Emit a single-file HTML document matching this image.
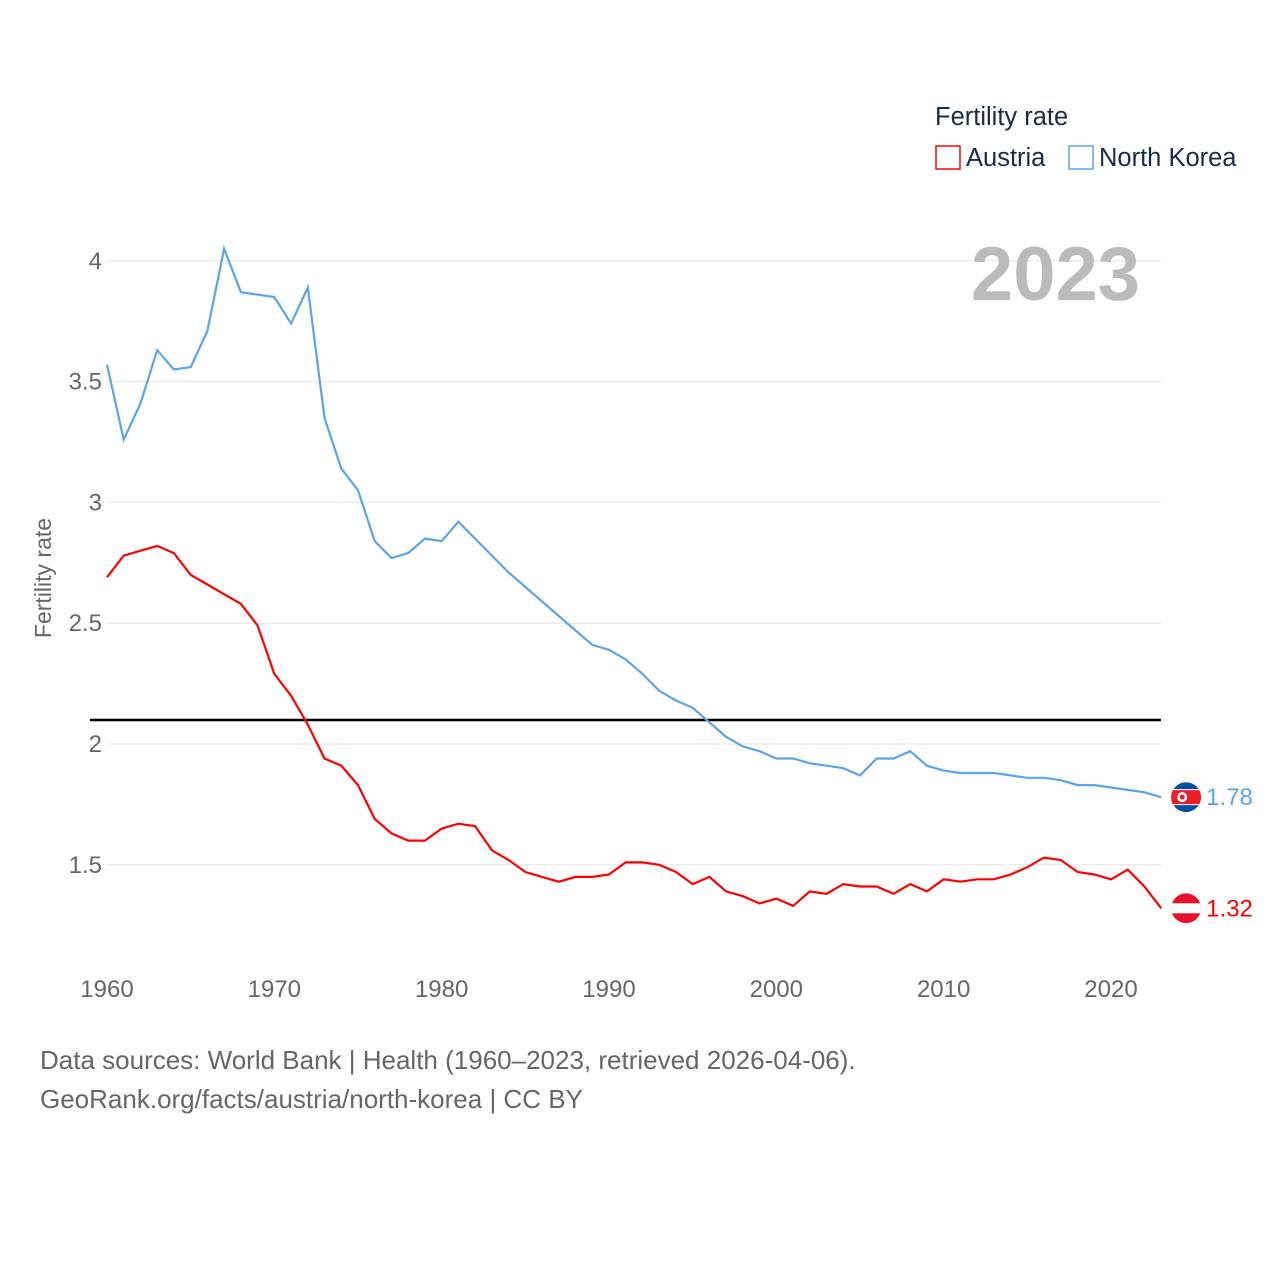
<!DOCTYPE html>
<html><head><meta charset="utf-8"><style>
body{margin:0;background:#fff;font-family:"Liberation Sans",sans-serif}
svg text{font-family:"Liberation Sans",sans-serif}
</style></head><body>
<svg id="chart" width="1280" height="1280" xmlns="http://www.w3.org/2000/svg">
<defs>
<clipPath id="c-nk"><circle cx="1186" cy="797.2" r="15"/></clipPath>
<clipPath id="c-at"><circle cx="1186" cy="908.3" r="15"/></clipPath>
</defs>
<g id="grid"></g>
<g id="yticks"></g>
<g id="xticks"></g>
<text transform="translate(51,578) rotate(-90)" text-anchor="middle" font-size="23" fill="#666">Fertility rate</text>
<text x="1140" y="300" text-anchor="end" font-size="76" font-weight="bold" fill="#bbb">2023</text>
<line x1="90" x2="1161" y1="720" y2="720" stroke="#000" stroke-width="2.5"/>
<g id="series"></g>
<g>
<text x="935" y="125" font-size="25.5" fill="#1a2b4a">Fertility rate</text>
<rect x="936" y="146" width="24" height="23" fill="none" stroke="#f00" stroke-width="1.5"/>
<text x="966" y="166" font-size="25.5" fill="#1a2b4a">Austria</text>
<rect x="1069" y="146" width="24" height="23" fill="none" stroke="#5ba4e8" stroke-width="1.5"/>
<text x="1099" y="166" font-size="25.5" fill="#1a2b4a">North Korea</text>
</g>
<text x="40" y="1069" font-size="26" fill="#666">Data sources: World Bank | Health (1960–2023, retrieved 2026-04-06).</text>
<text x="40" y="1108" font-size="26" fill="#666">GeoRank.org/facts/austria/north-korea | CC BY</text>
</svg>
<script>
const years=[];for(let y=1960;y<=2023;y++)years.push(y);
const northKorea=[3.57,3.26,3.41,3.63,3.55,3.56,3.71,4.05,3.87,3.86,3.85,3.74,3.89,3.35,3.14,3.05,2.84,2.77,2.79,2.85,2.84,2.92,2.85,2.78,2.71,2.65,2.59,2.53,2.47,2.41,2.39,2.35,2.29,2.22,2.18,2.15,2.09,2.03,1.99,1.97,1.94,1.94,1.92,1.91,1.90,1.87,1.94,1.94,1.97,1.91,1.89,1.88,1.88,1.88,1.87,1.86,1.86,1.85,1.83,1.83,1.82,1.81,1.80,1.78];
const austria=[2.69,2.78,2.80,2.82,2.79,2.70,2.66,2.62,2.58,2.49,2.29,2.20,2.08,1.94,1.91,1.83,1.69,1.63,1.60,1.60,1.65,1.67,1.66,1.56,1.52,1.47,1.45,1.43,1.45,1.45,1.46,1.51,1.51,1.50,1.47,1.42,1.45,1.39,1.37,1.34,1.36,1.33,1.39,1.38,1.42,1.41,1.41,1.38,1.42,1.39,1.44,1.43,1.44,1.44,1.46,1.49,1.53,1.52,1.47,1.46,1.44,1.48,1.41,1.32];
const yTicks=[1.5,2,2.5,3,3.5,4];
const xTicks=[1960,1970,1980,1990,2000,2010,2020];
const xs=y=>107+(y-1960)*16.733;
const ys=v=>744-(v-2)*241.6;
const NS="http://www.w3.org/2000/svg";
function mk(t,a,p){const e=document.createElementNS(NS,t);for(const k in a)e.setAttribute(k,a[k]);p.appendChild(e);return e;}
const grid=document.getElementById('grid'),yt=document.getElementById('yticks'),xt=document.getElementById('xticks'),ser=document.getElementById('series');
yTicks.forEach(v=>{
const l=mk('line',{x1:107,x2:1161,y1:ys(v),y2:ys(v),stroke:'#e6e6e6','stroke-width':1},grid);


const t=mk('text',{x:102,y:ys(v)+8,'text-anchor':'end','font-size':24,fill:'#666'},yt);t.textContent=String(v);


});
xTicks.forEach(v=>{
const t=mk('text',{x:xs(v),y:997,'text-anchor':'middle','font-size':24,fill:'#666'},xt);t.textContent=String(v);


});
function line(vals,color,name,flag){
const d=vals.map((v,i)=>(i?'L':'M')+xs(years[i]).toFixed(1)+','+ys(v).toFixed(1)).join('');
const p=mk('path',{d:d,fill:'none',stroke:color,'stroke-width':2.2},ser);


const last=vals[vals.length-1],lx=xs(years[years.length-1]),ly=ys(last);
const cx=lx+25;
const g=mk('g',{'clip-path':'url(#c-'+flag+')'},ser);


if(flag==='at'){
mk('circle',{cx:cx,cy:ly,r:15,fill:'#e8112d'},g);
mk('rect',{x:cx-15,y:ly-5,width:30,height:10,fill:'#fff'},g);
}else{
mk('circle',{cx:cx,cy:ly,r:15,fill:'#024fa2'},g);
mk('rect',{x:cx-15,y:ly-8,width:30,height:16,fill:'#fff'},g);
mk('rect',{x:cx-15,y:ly-7,width:30,height:14,fill:'#ed1c27'},g);
mk('circle',{cx:cx-4,cy:ly,r:5,fill:'#fff'},g);
mk('circle',{cx:cx-4,cy:ly,r:2.5,fill:'#ed1c27'},g);
}
const t=mk('text',{x:lx+45,y:ly+8,'font-size':24,fill:color},ser);t.textContent=last.toFixed(2);


}
line(northKorea,'#5ba4e8','north-korea','nk');
line(austria,'#f00','austria','at');
</script>
</body></html>
